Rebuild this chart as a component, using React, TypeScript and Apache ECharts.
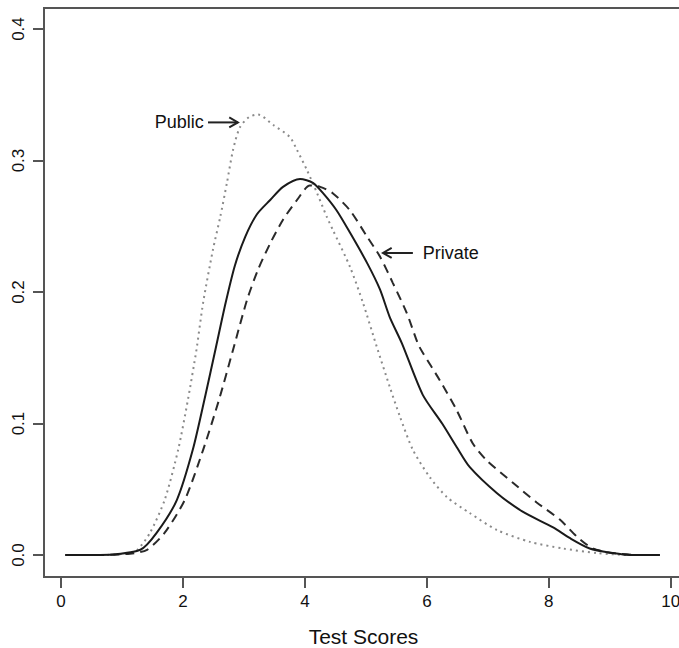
import React, { useEffect, useRef } from "react";
import * as echarts from "echarts";

const xTicks = [0, 2, 4, 6, 8, 10];
const yTicks = [0, 0.1, 0.2, 0.3, 0.4];

const totalX = [0.07, 0.64, 1.3, 1.57, 1.9, 2.16, 2.36, 2.54, 2.7, 2.85, 3.02, 3.21, 3.43, 3.64, 3.92, 4.13, 4.3, 4.52, 4.74, 5.02, 5.23, 5.39, 5.59, 5.93, 6.25, 6.49, 6.7, 7.15, 7.57, 8.07, 8.34, 8.67, 9.05, 9.33, 9.82];
const totalY = [0, 0, 0.004, 0.017, 0.042, 0.08, 0.12, 0.158, 0.192, 0.22, 0.242, 0.259, 0.27, 0.28, 0.286, 0.283, 0.275, 0.262, 0.245, 0.222, 0.202, 0.181, 0.161, 0.122, 0.1, 0.082, 0.067, 0.047, 0.033, 0.021, 0.013, 0.005, 0.0015, 0, 0];

const privateX = [0.07, 0.64, 1.13, 1.41, 1.7, 2.03, 2.33, 2.59, 2.82, 3.05, 3.23, 3.43, 3.64, 3.87, 4.08, 4.25, 4.46, 4.74, 5.02, 5.23, 5.44, 5.67, 5.85, 5.93, 6.21, 6.49, 6.75, 6.98, 7.41, 7.8, 8.18, 8.46, 8.72, 9.05, 9.49, 9.82];
const privateY = [0, 0, 0.001, 0.004, 0.017, 0.042, 0.08, 0.118, 0.156, 0.194, 0.217, 0.237, 0.255, 0.27, 0.281, 0.28, 0.275, 0.262, 0.242, 0.227, 0.207, 0.184, 0.161, 0.154, 0.133, 0.11, 0.085, 0.072, 0.055, 0.04, 0.027, 0.014, 0.005, 0.0015, 0, 0];

const publicX = [0.07, 0.64, 1.05, 1.25, 1.46, 1.7, 1.92, 2.08, 2.22, 2.33, 2.49, 2.61, 2.72, 2.82, 2.93, 3.08, 3.23, 3.48, 3.75, 3.87, 4.03, 4.2, 4.36, 4.46, 4.74, 4.95, 5.18, 5.39, 5.56, 5.77, 6.05, 6.33, 6.7, 7.15, 7.69, 8.23, 8.79, 9.33, 9.82];
const publicY = [0, 0, 0.001, 0.004, 0.017, 0.042, 0.08, 0.118, 0.156, 0.192, 0.232, 0.257, 0.283, 0.308, 0.325, 0.333, 0.335, 0.327, 0.318, 0.308, 0.293, 0.275, 0.257, 0.247, 0.219, 0.192, 0.158, 0.128, 0.105, 0.08, 0.059, 0.044, 0.032, 0.019, 0.01, 0.005, 0.0015, 0, 0];

const publicNote = { label: "Public", textX: 2.34, tailX: 2.41, headX: 2.9, y: 0.329 };
const privateNote = { label: "Private", textX: 5.93, tailX: 5.77, headX: 5.28, y: 0.2297 };

const FONT = "Liberation Sans, Arial, Helvetica, sans-serif";

function pairs(xs: number[], ys: number[]) {
  return xs.map((x, i) => [x, ys[i]]);
}

export default function App() {
  const ref = useRef<HTMLDivElement>(null);
  useEffect(() => {
    document.body.style.margin = "0";
    const chart = echarts.init(ref.current!, null, { renderer: "svg" });
    const lineBase = { type: "line", showSymbol: false, symbol: "none", smooth: 0.25 };
    chart.setOption({
      animation: false,
      backgroundColor: "#fff",
      grid: {
        left: 44,
        top: 8,
        width: 639,
        height: 569,
        show: true,
        borderColor: "#555",
        borderWidth: 2,
        backgroundColor: "transparent",
        containLabel: false,
        outerBoundsMode: "none",
      },
      xAxis: {
        type: "value",
        min: -0.28,
        max: 10.2,
        name: "Test Scores",
        nameLocation: "middle",
        nameGap: 49,
        nameTextStyle: { fontSize: 21, color: "#111", fontFamily: FONT },
        axisLine: { show: false, onZero: false },
        splitLine: { show: false },
        axisTick: {
          show: true,
          length: 11,
          customValues: xTicks,
          lineStyle: { color: "#555", width: 2 },
        },
        axisLabel: {
          customValues: xTicks,
          fontSize: 17,
          color: "#111",
          fontFamily: FONT,
          margin: 16,
          hideOverlap: false,
          formatter: (v: number) => String(v),
        },
      },
      yAxis: {
        type: "value",
        min: -0.0167,
        max: 0.416,
        axisLine: { show: false, onZero: false },
        splitLine: { show: false },
        axisTick: {
          show: true,
          length: 11,
          customValues: yTicks,
          lineStyle: { color: "#555", width: 2 },
        },
        axisLabel: {
          customValues: yTicks,
          rotate: 90,
          fontSize: 17,
          color: "#111",
          fontFamily: FONT,
          margin: 17,
          formatter: (v: number) => v.toFixed(1),
        },
      },
      series: [
        {
          ...lineBase,
          name: "Total",
          data: pairs(totalX, totalY),
          lineStyle: { color: "#1a1a1a", width: 2 },
          z: 3,
        },
        {
          ...lineBase,
          name: "Private",
          data: pairs(privateX, privateY),
          lineStyle: { color: "#2a2a2a", width: 2, type: [9, 6] },
          z: 2,
        },
        {
          ...lineBase,
          name: "Public",
          data: pairs(publicX, publicY),
          lineStyle: { color: "#8a8a8a", width: 2, type: [2, 4] },
          z: 1,
        },
      ],
    });

    const toPx = (x: number, y: number) => chart.convertToPixel({ gridIndex: 0 }, [x, y]) as number[];
    const arrow = (tailX: number, headX: number, y: number) => {
      const t = toPx(tailX, y);
      const h = toPx(headX, y);
      const dx = h[0] - t[0];
      const dy = h[1] - t[1];
      const len = Math.hypot(dx, dy) || 1;
      const ux = dx / len;
      const uy = dy / len;
      const L = 10;
      const a = Math.PI / 6;
      const p1 = [h[0] - L * (ux * Math.cos(a) - uy * Math.sin(a)), h[1] - L * (uy * Math.cos(a) + ux * Math.sin(a))];
      const p2 = [h[0] - L * (ux * Math.cos(a) + uy * Math.sin(a)), h[1] - L * (uy * Math.cos(a) - ux * Math.sin(a))];
      const style = { stroke: "#222", lineWidth: 2, fill: null };
      return [
        { type: "line", shape: { x1: t[0], y1: t[1], x2: h[0], y2: h[1] }, style },
        { type: "polyline", shape: { points: [p1, h, p2] }, style },
      ];
    };
    const text = (label: string, x: number, y: number, align: string) => {
      const p = toPx(x, y);
      return {
        type: "text",
        x: p[0],
        y: p[1],
        style: {
          text: label,
          fill: "#111",
          font: `18px ${FONT}`,
          align,
          textAlign: align,
          verticalAlign: "middle",
          textVerticalAlign: "middle",
        },
      };
    };
    chart.setOption({
      graphic: [
        ...arrow(publicNote.tailX, publicNote.headX, publicNote.y),
        text(publicNote.label, publicNote.textX, publicNote.y, "right"),
        ...arrow(privateNote.tailX, privateNote.headX, privateNote.y),
        text(privateNote.label, privateNote.textX, privateNote.y, "left"),
      ],
    });
    return () => chart.dispose();
  }, []);
  return <div ref={ref} style={{ width: 679, height: 648 }} />;
}
